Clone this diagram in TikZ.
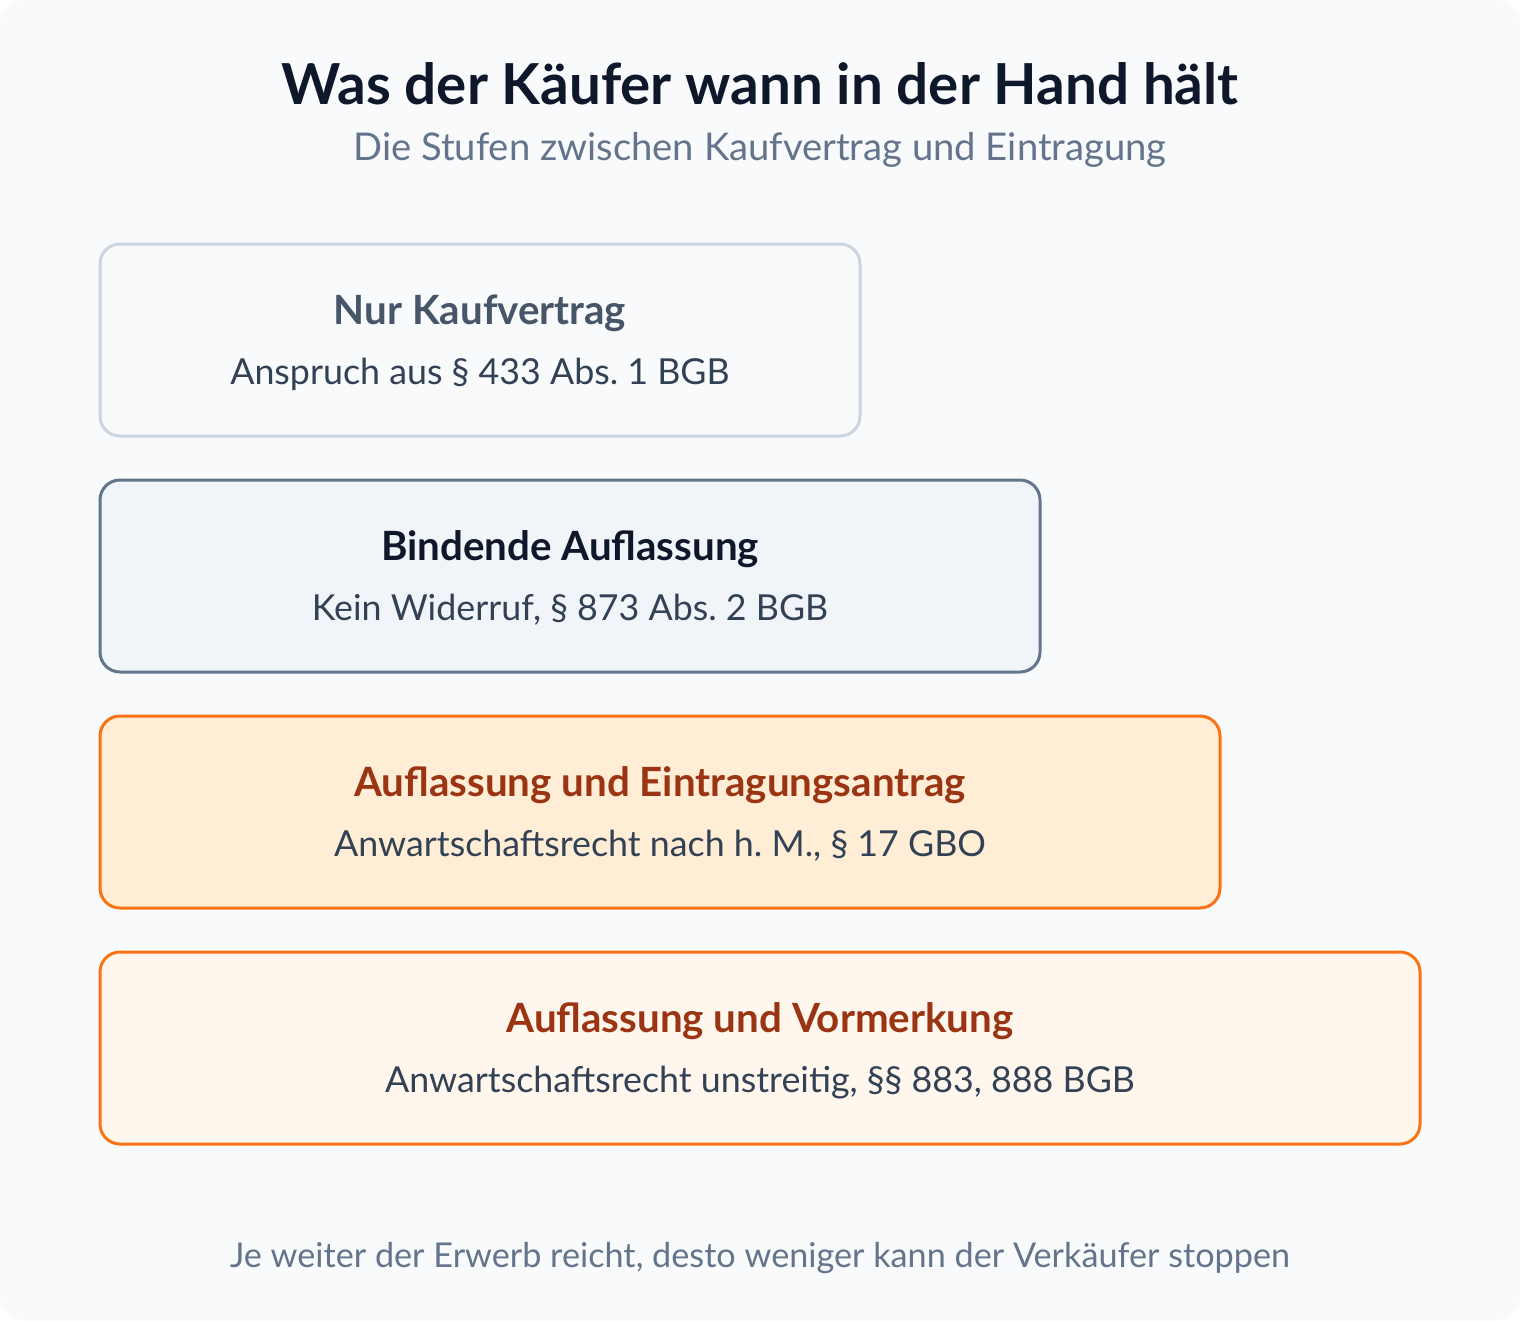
\documentclass[tikz,border=0pt]{standalone}
\usepackage{fontspec}
\setmainfont{Lato}
\frenchspacing
\definecolor{bgc}{HTML}{F8FAFC}
\definecolor{titlec}{HTML}{0F172A}
\definecolor{subc}{HTML}{64748B}
\definecolor{txtc}{HTML}{334155}
\definecolor{b1border}{HTML}{CBD5E1}
\definecolor{b1title}{HTML}{475569}
\definecolor{b2border}{HTML}{64748B}
\definecolor{b2fill}{HTML}{F1F5F9}
\definecolor{orangeb}{HTML}{F97316}
\definecolor{b3fill}{HTML}{FFEDD5}
\definecolor{b4fill}{HTML}{FFF7ED}
\definecolor{orangetxt}{HTML}{9A3412}
\tikzset{
  stage/.style={draw, line width=3pt, rounded corners=20pt, minimum height=192pt, inner sep=0pt},
  stagetitle/.style={anchor=base, font=\fontsize{40.3}{44}\selectfont\bfseries, inner sep=0pt},
  stagesub/.style={anchor=base, font=\fontsize{35.8}{40}\selectfont, text=txtc, inner sep=0pt},
}
\begin{document}
\begin{tikzpicture}[x=1pt,y=-1pt]
\useasboundingbox (0,0) rectangle (1520,1320);
\fill[bgc, rounded corners=24pt] (0,0) rectangle (1520,1320);
\node[anchor=base, font=\fontsize{56.5}{60}\selectfont\bfseries, text=titlec, inner sep=0pt] (title) at (760,104) {Was der Käufer wann in der Hand hält};
\node[anchor=base, font=\fontsize{38.2}{42}\selectfont, text=subc, inner sep=0pt] (subtitle) at (760,160) {Die Stufen zwischen Kaufvertrag und Eintragung};

\node[stage, draw=b1border, fill=bgc, minimum width=760pt] (s1) at (480,340) {};
\node[stagetitle, text=b1title] (s1t) at (480,324) {Nur Kaufvertrag};
\node[stagesub] (s1s) at (480,384) {Anspruch aus § 433 Abs. 1 BGB};

\node[stage, draw=b2border, fill=b2fill, minimum width=940pt] (s2) at (570,576) {};
\node[stagetitle, text=titlec] (s2t) at (570,560) {Bindende Auflassung};
\node[stagesub] (s2s) at (570,620) {Kein Widerruf, § 873 Abs. 2 BGB};

\node[stage, draw=orangeb, fill=b3fill, minimum width=1120pt] (s3) at (660,812) {};
\node[stagetitle, text=orangetxt] (s3t) at (660,796) {Auflassung und Eintragungsantrag};
\node[stagesub] (s3s) at (660,856) {Anwartschaftsrecht nach h. M., § 17 GBO};

\node[stage, draw=orangeb, fill=b4fill, minimum width=1320pt] (s4) at (760,1048) {};
\node[stagetitle, text=orangetxt] (s4t) at (760,1032) {Auflassung und Vormerkung};
\node[stagesub] (s4s) at (760,1092) {Anwartschaftsrecht unstreitig, §§ 883, 888 BGB};

\node[anchor=base, font=\fontsize{34.2}{38}\selectfont, text=subc, inner sep=0pt] (footer) at (760,1267) {Je weiter der Erwerb reicht, desto weniger kann der Verkäufer stoppen};
\end{tikzpicture}
\end{document}
